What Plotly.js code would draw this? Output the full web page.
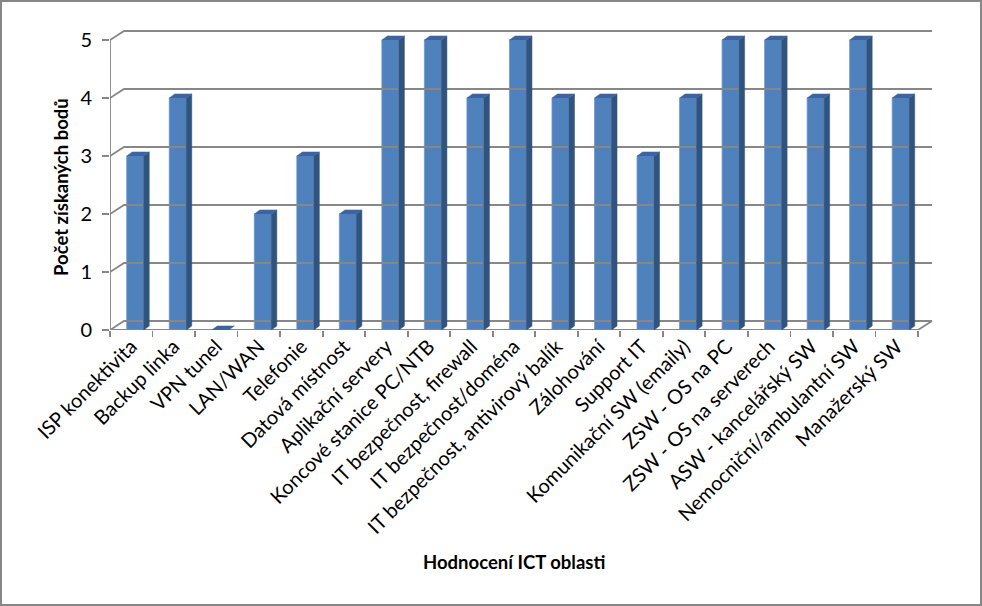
<!DOCTYPE html>
<html>
<head>
<meta charset="utf-8">
<script src="https://cdn.plot.ly/plotly-3.0.1.min.js"></script>
<style>
  html, body { margin: 0; padding: 0; background: #fff; }
  #wrap { position: relative; width: 982px; height: 606px; }
  #chart { width: 982px; height: 606px; }
  #frame { position: absolute; left: 0; top: 0; width: 982px; height: 606px; box-sizing: border-box; border: 2px solid #878787; pointer-events: none; }
</style>
</head>
<body>
<div id="wrap"><div id="chart"></div><div id="frame"></div></div>
<script>
// ---- data ----
const categories = [
  "ISP konektivita", "Backup linka", "VPN tunel", "LAN/WAN", "Telefonie",
  "Datová místnost", "Aplikační servery", "Koncové stanice PC/NTB",
  "IT bezpečnost, firewall", "IT bezpečnost/doména", "IT bezpečnost, antivirový balík",
  "Zálohování", "Support IT", "Komunikační SW (emaily)", "ZSW - OS na PC",
  "ZSW - OS na serverech", "ASW - kancelářský SW", "Nemocniční/ambulantní SW", "Manažerský SW"
];
const points = [3, 4, 0, 2, 3, 2, 5, 5, 4, 5, 4, 4, 3, 4, 5, 5, 4, 5, 4];
const yTicks = [0, 1, 2, 3, 4, 5];
const xTitle = "Hodnocení ICT oblasti";
const yTitle = "Počet získaných bodů";

// ---- 3D look geometry (category / value units) ----
const N = categories.length;
const BAR_OFF = 0.393, BAR_W = 0.40, BAR_DX = 0.13, BAR_DY = 0.07;
const WALL_DX = 0.33, WALL_DY = 0.155;
const GRID = '#878787';

const idx = categories.map((_, i) => i);

// side faces and top faces
const sx = [], sy = [], tx = [], ty = [];
points.forEach((v, i) => {
  const x1 = i + BAR_OFF + BAR_W;
  const x0 = i + BAR_OFF;
  if (v > 0) {
    sx.push(x1, x1 + BAR_DX, x1 + BAR_DX, x1, x1, null);
    sy.push(0, BAR_DY, v + BAR_DY, v, 0, null);
  }
  tx.push(x0, x1, x1 + BAR_DX, x0 + BAR_DX, x0, null);
  ty.push(v, v, v + BAR_DY, v + BAR_DY, v, null);
});

// walls: gridlines on back wall with diagonal connectors, floor edges, front axes
const gx = [], gy = [];
const yMaxTick = yTicks[yTicks.length - 1];
yTicks.forEach(k => {
  gx.push(0, WALL_DX, N + WALL_DX, null);
  gy.push(k, k + WALL_DY, k + WALL_DY, null);
});
gx.push(N, N + WALL_DX, null);
gy.push(0, WALL_DY, null);
const ax = [0, 0, N], ay = [yMaxTick, 0, 0];

const traces = [
  { type: 'scatter', mode: 'lines', x: gx, y: gy, line: { color: GRID, width: 1.8 }, hoverinfo: 'skip', connectgaps: false },
  { type: 'scatter', mode: 'lines', x: ax, y: ay, line: { color: GRID, width: 1.8 }, hoverinfo: 'skip' },
  { type: 'bar', x: idx, y: points, offset: BAR_OFF, width: BAR_W,
    marker: { color: '#4F81BD', line: { color: '#6F98CB', width: 0.8 } }, hoverinfo: 'skip' },
  { type: 'scatter', mode: 'lines', x: sx, y: sy, fill: 'toself', fillcolor: '#31547F',
    line: { color: '#31547F', width: 0.5 }, hoverinfo: 'skip' },
  { type: 'scatter', mode: 'lines', x: tx, y: ty, fill: 'toself', fillcolor: '#3C64A0',
    line: { color: '#3C64A0', width: 0.5 }, hoverinfo: 'skip' }
];

const FONT = 'Lato, "Open Sans", sans-serif';
const layout = {
  width: 982, height: 606,
  margin: { l: 110, r: 47, t: 28, b: 276 },
  paper_bgcolor: '#ffffff', plot_bgcolor: '#ffffff',
  showlegend: false,
  font: { family: FONT, color: '#000', size: 20 },
  xaxis: {
    range: [0, N + 0.4], showgrid: false, zeroline: false, showline: false,
    tickmode: 'array', tickvals: idx.map(i => i + 0.5), ticktext: categories,
    ticks: '', tickangle: -45, tickfont: { size: 20, family: FONT },
    minor: { ticks: 'outside', tick0: 0, dtick: 1, ticklen: 6, tickcolor: GRID, tickwidth: 1.8, showgrid: false },
    fixedrange: true
  },
  yaxis: {
    range: [0, 302 / 58], showgrid: false, zeroline: false, showline: false,
    tickmode: 'array', tickvals: yTicks, ticks: 'outside', ticklen: 7, tickcolor: GRID, tickwidth: 1.8,
    tickfont: { size: 20, family: FONT }, ticklabelstandoff: 6,
    fixedrange: true
  },
  annotations: [
    { text: '<b>' + xTitle + '</b>', xref: 'paper', yref: 'paper', x: 0.4897, y: -0.768,
      xanchor: 'center', yanchor: 'middle', showarrow: false, font: { size: 18.5, family: FONT, color: '#000' } },
    { text: '<b>' + yTitle + '</b>', xref: 'paper', yref: 'paper', x: -0.0594, y: 0.4735,
      xanchor: 'center', yanchor: 'middle', textangle: -90, showarrow: false, font: { size: 18.5, family: FONT, color: '#000' } }
  ],
  bargap: 0
};

Plotly.newPlot('chart', traces, layout, { staticPlot: true, displayModeBar: false });
</script>
</body>
</html>
